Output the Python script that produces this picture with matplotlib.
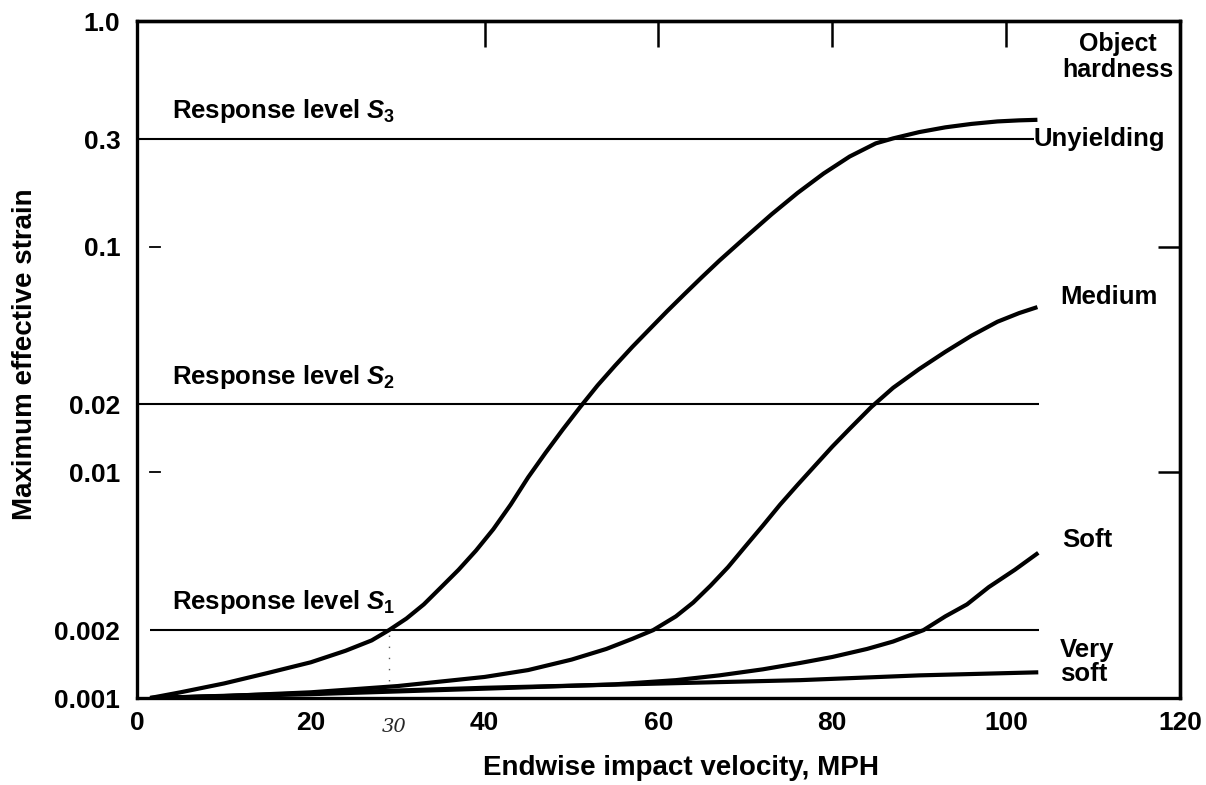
import matplotlib
matplotlib.use("Agg")
import matplotlib.pyplot as plt
from matplotlib.ticker import NullLocator, FixedLocator
from matplotlib.transforms import blended_transform_factory

plt.rcParams["font.family"] = ["Liberation Sans", "DejaVu Sans"]
plt.rcParams["font.weight"] = "bold"
plt.rcParams["mathtext.fontset"] = "custom"
plt.rcParams["mathtext.rm"] = "Liberation Sans:bold"
plt.rcParams["mathtext.it"] = "Liberation Sans:italic:bold"
plt.rcParams["mathtext.bf"] = "Liberation Sans:bold"

# Endwise impact velocity (MPH) and maximum effective strain per object hardness
unyielding_v = [1.5, 5, 10, 15, 20, 24, 27, 29, 31, 33, 35, 37, 39, 41, 43, 45,
                47, 49, 51, 53, 55, 57, 59, 61, 63, 65, 67, 70, 73, 76, 79, 82,
                85, 87, 90, 93, 96, 99, 101.5, 103.6]
unyielding_s = [0.001, 0.00106, 0.00116, 0.00129, 0.00144, 0.00162, 0.0018, 0.002,
                0.00225, 0.0026, 0.0031, 0.0037, 0.0045, 0.0056, 0.0072, 0.0095,
                0.0122, 0.0155, 0.0195, 0.0243, 0.0297, 0.036, 0.0432, 0.0518,
                0.0617, 0.0733, 0.0867, 0.110, 0.139, 0.173, 0.211, 0.251, 0.287,
                0.302, 0.322, 0.338, 0.35, 0.359, 0.363, 0.365]

medium_v = [1.5, 10, 20, 30, 40, 45, 50, 54, 57, 59.4, 62, 64, 66, 68, 70, 72,
            74, 76, 78, 80, 82, 84.5, 87, 90, 93, 96, 99, 101.5, 103.6]
medium_s = [0.001, 0.00102, 0.00106, 0.00113, 0.00124, 0.00133, 0.00148, 0.00165,
            0.00183, 0.002, 0.0023, 0.00265, 0.00315, 0.0038, 0.0047, 0.0058,
            0.0072, 0.0088, 0.0107, 0.013, 0.0156, 0.0195, 0.0237, 0.0287, 0.0342,
            0.0403, 0.0465, 0.0508, 0.054]

soft_v = [1.5, 20, 40, 55, 62, 67, 72, 76.3, 80, 84, 87, 90.5, 93, 95.5, 98,
          101, 103.7]
soft_s = [0.001, 0.00104, 0.0011, 0.00115, 0.0012, 0.00126, 0.00134, 0.00143,
          0.00152, 0.00165, 0.00178, 0.002, 0.0023, 0.0026, 0.0031, 0.0037,
          0.0044]

very_soft_v = [1.5, 20, 40, 60.5, 76.3, 90, 103.7]
very_soft_s = [0.001, 0.00105, 0.00111, 0.00116, 0.0012, 0.00126, 0.0013]

# Response levels S1, S2, S3
response_levels = [0.002, 0.02, 0.3]
response_names = [r"Response level $S_1$", r"Response level $S_2$", r"Response level $S_3$"]
response_start = [1.5, 0, 0]
response_end = [103.8, 103.8, 103.2]

x_ticks = [0, 20, 40, 60, 80, 100, 120]
y_ticks = [0.001, 0.002, 0.01, 0.02, 0.1, 0.3, 1.0]
y_tick_labels = ["0.001", "0.002", "0.01", "0.02", "0.1", "0.3", "1.0"]

LABEL_SIZE = 18.5

fig = plt.figure(figsize=(12.06, 7.85), dpi=100)
ax = fig.add_axes([0.1136, 0.1108, 0.8648, 0.8624])

ax.set_yscale("log")
ax.set_xlim(0, 120)
ax.set_ylim(0.001, 1.0)

curve_kw = dict(color="black", lw=3.0, solid_capstyle="butt",
                solid_joinstyle="round", zorder=3)
ax.plot(unyielding_v, unyielding_s, **curve_kw)
ax.plot(medium_v, medium_s, **curve_kw)
ax.plot(soft_v, soft_s, **curve_kw)
ax.plot(very_soft_v, very_soft_s, **curve_kw)

for lvl, name, x0, x1 in zip(response_levels, response_names, response_start, response_end):
    ax.hlines(lvl, x0, x1, color="black", lw=1.5, zorder=2)
    ax.annotate(name, xy=(4.0, lvl), xytext=(0, 15), textcoords="offset points",
                va="baseline", ha="left", fontsize=LABEL_SIZE, fontweight="bold")

# Curve labels
ax.text(103.2, 0.3, "Unyielding", va="center", ha="left", fontsize=LABEL_SIZE,
        fontweight="bold")
ax.text(106.2, 0.06, "Medium", va="center", ha="left", fontsize=LABEL_SIZE,
        fontweight="bold")
ax.text(106.4, 0.005, "Soft", va="center", ha="left", fontsize=LABEL_SIZE,
        fontweight="bold")
ax.text(106.2, 0.00144, "Very\nsoft", va="center", ha="left", fontsize=LABEL_SIZE,
        fontweight="bold", linespacing=1.0)
ax.text(0.9406, 0.947, "Object\nhardness", transform=ax.transAxes, va="center",
        ha="center", fontsize=18, fontweight="bold", linespacing=1.1)

# Axes frame
for side in ["left", "right", "top", "bottom"]:
    ax.spines[side].set_linewidth(2.4)

ax.set_xticks(x_ticks)
ax.set_xticklabels([str(t) for t in x_ticks])
ax.set_yticks(y_ticks)
ax.set_yticklabels(y_tick_labels)
ax.yaxis.set_minor_locator(NullLocator())
ax.tick_params(axis="both", which="major", length=0, labelsize=19)
ax.tick_params(axis="y", which="major", pad=12)
ax.tick_params(axis="x", which="major", pad=9)

# Inward bottom ticks
ax.xaxis.set_minor_locator(FixedLocator([20, 40, 60, 100]))
ax.tick_params(axis="x", which="minor", direction="in", length=16, width=1.0)

# Inward top ticks
top = ax.secondary_xaxis("top")
top.set_xticks([40, 60, 80, 100])
top.set_xticklabels([])
top.tick_params(direction="in", length=19, width=1.8)
top.spines["top"].set_linewidth(2.4)

# Inward right ticks
right = ax.secondary_yaxis("right")
right.set_yticks([0.01, 0.1])
right.set_yticklabels([])
right.yaxis.set_minor_locator(NullLocator())
right.tick_params(direction="in", length=16, width=1.8)
right.spines["right"].set_linewidth(2.4)

# Short marks near the left axis at 0.1 and 0.01
blend = blended_transform_factory(ax.transAxes, ax.transData)
for lvl in [0.1, 0.01]:
    ax.plot([0.0125, 0.022], [lvl, lvl], color="black", lw=1.3, transform=blend)

# Pencilled note at the S1 crossing
ax.vlines(29, 0.00106, 0.00195, colors="0.35", lw=1.0, linestyles=(0, (1, 7)))
xblend = blended_transform_factory(ax.transData, ax.transAxes)
ax.text(29.6, -0.043, "30", transform=xblend, ha="center", va="center",
        fontsize=14, fontstyle="italic", fontweight="normal",
        family=["DejaVu Serif"], color="0.15")

ax.set_xlabel("Endwise impact velocity, MPH", fontsize=20, fontweight="bold")
ax.xaxis.set_label_coords(0.522, -0.084)
ax.set_ylabel("Maximum effective strain", fontsize=20, fontweight="bold")
ax.yaxis.set_label_coords(-0.095, 0.508)

fig.savefig("out.png", dpi=100)
